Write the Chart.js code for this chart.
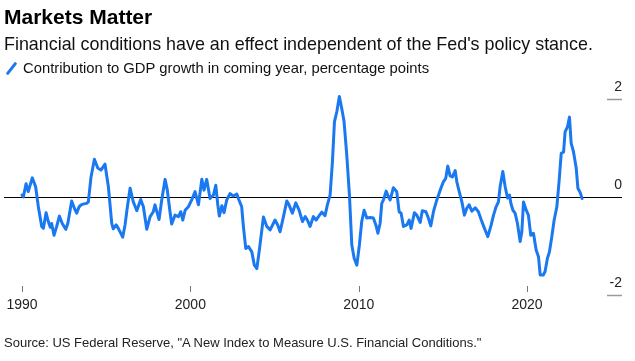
<!DOCTYPE html>
<html>
<head>
<meta charset="utf-8">
<script src="https://cdn.jsdelivr.net/npm/chart.js@4.4.1/dist/chart.umd.min.js"></script>
<style>
  body { margin: 0; background: #fff; font-family: "Liberation Sans", Arial, sans-serif; }
  #wrap { position: relative; width: 635px; height: 361px; overflow: hidden; }
  #grafico { position: absolute; left: 0; top: 0; }
  .txt { position: absolute; left: 4px; white-space: nowrap; color: #111; }
  #titulo { top: 5px; font-size: 21px; font-weight: bold; line-height: 24px; color: #000; }
  #subtitulo { top: 34px; font-size: 17.9px; line-height: 20px; }
  #leyenda { top: 60px; left: 23px; font-size: 14.8px; line-height: 16px; }
  #iconoLeyenda { position: absolute; left: 10px; top: 61px; width: 3px; height: 15px; background: #1a78f0; transform: rotate(38deg); border-radius: 1px; }
  #fuente { top: 335px; font-size: 13px; line-height: 16px; color: #222; }
</style>
</head>
<body>
<div id="wrap">
  <canvas id="grafico" width="635" height="361"></canvas>
  <div class="txt" id="titulo">Markets Matter</div>
  <div class="txt" id="subtitulo">Financial conditions have an effect independent of the Fed's policy stance.</div>
  <div id="iconoLeyenda"></div>
  <div class="txt" id="leyenda">Contribution to GDP growth in coming year, percentage points</div>
  <div class="txt" id="fuente">Source: US Federal Reserve, "A New Index to Measure U.S. Financial Conditions."</div>
</div>
<script>
// fechas en años decimales
const fechas = [
  1990.0, 1990.08, 1990.24, 1990.37, 1990.61, 1990.81, 1990.97, 1991.17, 1991.27, 1991.43,
  1991.56, 1991.68, 1991.76, 1991.90, 1992.06, 1992.22, 1992.39, 1992.60, 1992.72, 1992.95,
  1993.11, 1993.25, 1993.39, 1993.51, 1993.68, 1993.84, 1993.94, 1994.10, 1994.30, 1994.50,
  1994.69, 1994.93, 1995.13, 1995.33, 1995.42, 1995.59, 1995.72, 1995.98, 1996.12, 1996.26,
  1996.42, 1996.61, 1996.82, 1997.05, 1997.21, 1997.41, 1997.61, 1997.80, 1997.90, 1998.14,
  1998.30, 1998.50, 1998.63, 1998.79, 1998.89, 1999.09, 1999.29, 1999.43, 1999.55, 1999.69,
  1999.88, 2000.08, 2000.28, 2000.48, 2000.68, 2000.81, 2000.97, 2001.17, 2001.37, 2001.51,
  2001.63, 2001.72, 2001.87, 2002.00, 2002.16, 2002.36, 2002.55, 2002.76, 2002.85, 2003.05,
  2003.15, 2003.29, 2003.45, 2003.65, 2003.80, 2003.95, 2004.10, 2004.34, 2004.54, 2004.74,
  2005.03, 2005.19, 2005.33, 2005.53, 2005.73, 2005.86, 2006.06, 2006.26, 2006.46, 2006.66,
  2006.82, 2006.95, 2007.11, 2007.31, 2007.47, 2007.61, 2007.81, 2008.00, 2008.14, 2008.30,
  2008.44, 2008.56, 2008.70, 2008.85, 2008.99, 2009.13, 2009.29, 2009.45, 2009.59, 2009.73,
  2009.89, 2010.04, 2010.18, 2010.32, 2010.48, 2010.68, 2010.87, 2011.02, 2011.14, 2011.27,
  2011.37, 2011.47, 2011.63, 2011.76, 2011.87, 2012.06, 2012.26, 2012.40, 2012.52, 2012.66,
  2012.86, 2013.00, 2013.11, 2013.31, 2013.45, 2013.65, 2013.78, 2013.99, 2014.11, 2014.28,
  2014.44, 2014.64, 2014.84, 2015.03, 2015.17, 2015.29, 2015.43, 2015.57, 2015.73, 2015.83,
  2015.97, 2016.13, 2016.28, 2016.42, 2016.56, 2016.72, 2016.92, 2017.11, 2017.27, 2017.47,
  2017.67, 2017.87, 2018.00, 2018.16, 2018.30, 2018.40, 2018.56, 2018.70, 2018.84, 2018.96,
  2019.04, 2019.16, 2019.29, 2019.43, 2019.59, 2019.69, 2019.79, 2019.95, 2020.08, 2020.22,
  2020.38, 2020.54, 2020.68, 2020.78, 2020.97, 2021.07, 2021.21, 2021.33, 2021.47, 2021.61,
  2021.77, 2021.91, 2022.03, 2022.17, 2022.26, 2022.40, 2022.52, 2022.62, 2022.76, 2022.92,
  2023.02, 2023.16, 2023.27
];

// contribución al crecimiento del PIB, puntos porcentuales
const contribucion = [
  0.04, 0.0, 0.27, 0.11, 0.39, 0.21, -0.2, -0.6, -0.64, -0.32,
  -0.5, -0.62, -0.54, -0.78, -0.6, -0.39, -0.54, -0.66, -0.54, -0.08,
  -0.23, -0.33, -0.2, -0.16, -0.14, -0.13, -0.1, 0.41, 0.77, 0.59,
  0.55, 0.67, 0.21, -0.54, -0.65, -0.57, -0.64, -0.82, -0.57, -0.2,
  0.18, -0.1, -0.28, -0.05, -0.2, -0.66, -0.4, -0.3, -0.16, -0.46,
  -0.06, 0.36, 0.14, -0.3, -0.55, -0.37, -0.4, -0.3, -0.47, -0.27,
  -0.2, -0.06, 0.11, -0.16, 0.36, 0.14, 0.36, -0.03, 0.04, 0.24,
  -0.16, -0.39, -0.18, -0.32, -0.06, 0.07, 0.02, 0.06, -0.03, -0.2,
  -0.6, -1.05, -1.01, -1.12, -1.39, -1.46, -1.08, -0.41, -0.6, -0.67,
  -0.47, -0.57, -0.71, -0.4, -0.08, -0.16, -0.33, -0.12, -0.27, -0.5,
  -0.4, -0.47, -0.6, -0.4, -0.47, -0.4, -0.31, -0.38, -0.16, 0.04,
  0.72, 1.54, 1.74, 2.05, 1.81, 1.54, 0.86, 0.04, -0.98, -1.25,
  -1.39, -0.98, -0.5, -0.27, -0.43, -0.42, -0.43, -0.57, -0.74, -0.54,
  -0.13, -0.06, 0.12, 0.01, -0.06, 0.19, 0.11, -0.3, -0.33, -0.6,
  -0.57, -0.47, -0.64, -0.32, -0.37, -0.52, -0.28, -0.3, -0.4, -0.59,
  -0.3, -0.06, 0.14, 0.31, 0.38, 0.63, 0.43, 0.41, 0.54, 0.31,
  0.11, -0.1, -0.37, -0.23, -0.16, -0.29, -0.22, -0.3, -0.46, -0.64,
  -0.81, -0.57, -0.38, -0.2, -0.1, 0.21, 0.52, 0.21, -0.02, 0.04,
  -0.13, -0.27, -0.33, -0.54, -0.91, -0.71, -0.1, -0.27, -0.37, -0.78,
  -0.74, -1.08, -1.22, -1.59, -1.59, -1.52, -1.25, -1.12, -0.81, -0.47,
  -0.2, 0.35, 0.89, 0.92, 1.33, 1.43, 1.63, 1.1, 0.92, 0.59,
  0.18, 0.09, -0.03
];

const ticksX = [1990, 2000, 2010, 2020];
const ticksY = [-2, 0, 2];

const AZUL = '#1a78f0';

// marcas cortas: a la derecha para -2 y 2, y sobre los años
const marcasEjes = {
  id: 'marcasEjes',
  afterDraw(chart) {
    const { ctx, chartArea, scales } = chart;
    ctx.save();
    ctx.strokeStyle = '#999';
    ctx.lineWidth = 1.5;
    ticksY.forEach(v => {
      if (v === 0) return;
      const y = Math.round(scales.y.getPixelForValue(v)) + 0.5;
      ctx.beginPath();
      ctx.moveTo(chartArea.right - 15, y);
      ctx.lineTo(chartArea.right, y);
      ctx.stroke();
    });
    ctx.strokeStyle = '#777';
    ctx.lineWidth = 1;
    ticksX.forEach(v => {
      const x = Math.round(scales.x.getPixelForValue(v)) + 0.5;
      ctx.beginPath();
      ctx.moveTo(x, chartArea.bottom - 9);
      ctx.lineTo(x, chartArea.bottom - 3);
      ctx.stroke();
    });
    ctx.restore();
  }
};

new Chart(document.getElementById('grafico'), {
  type: 'line',
  data: {
    datasets: [{
      label: 'Contribution to GDP growth in coming year, percentage points',
      data: fechas.map((f, i) => ({ x: f, y: contribucion[i] })),
      borderColor: AZUL,
      borderWidth: 3,
      pointRadius: 0,
      tension: 0,
      borderJoinStyle: 'round',
      borderCapStyle: 'round'
    }]
  },
  options: {
    responsive: false,
    animation: false,
    layout: { padding: { left: 4, right: 13, top: 89.2, bottom: 0 } },
    plugins: { legend: { display: false }, tooltip: { enabled: false } },
    scales: {
      x: {
        type: 'linear',
        min: 1988.93,
        max: 2025.64,
        afterBuildTicks: s => { s.ticks = ticksX.map(v => ({ value: v })); },
        afterFit: s => { s.height = 66; },
        grid: { display: false },
        border: { display: false },
        ticks: {
          padding: -6,
          color: '#222',
          font: { family: 'Liberation Sans', size: 14 },
          callback: v => String(v),
          maxRotation: 0
        }
      },
      y: {
        position: 'right',
        min: -2,
        max: 2.2,
        afterBuildTicks: s => { s.ticks = ticksY.map(v => ({ value: v })); },
        afterFit: s => { s.width = 0; },
        grid: {
          drawOnChartArea: true,
          drawTicks: false,
          color: c => (c.tick && c.tick.value === 0 ? '#000' : 'rgba(0,0,0,0)'),
          lineWidth: 1
        },
        border: { display: false },
        ticks: {
          mirror: true,
          padding: 0,
          labelOffset: -12,
          color: '#222',
          font: { family: 'Liberation Sans', size: 14 },
          callback: v => String(v)
        }
      }
    }
  },
  plugins: [marcasEjes]
});
</script>
</body>
</html>
